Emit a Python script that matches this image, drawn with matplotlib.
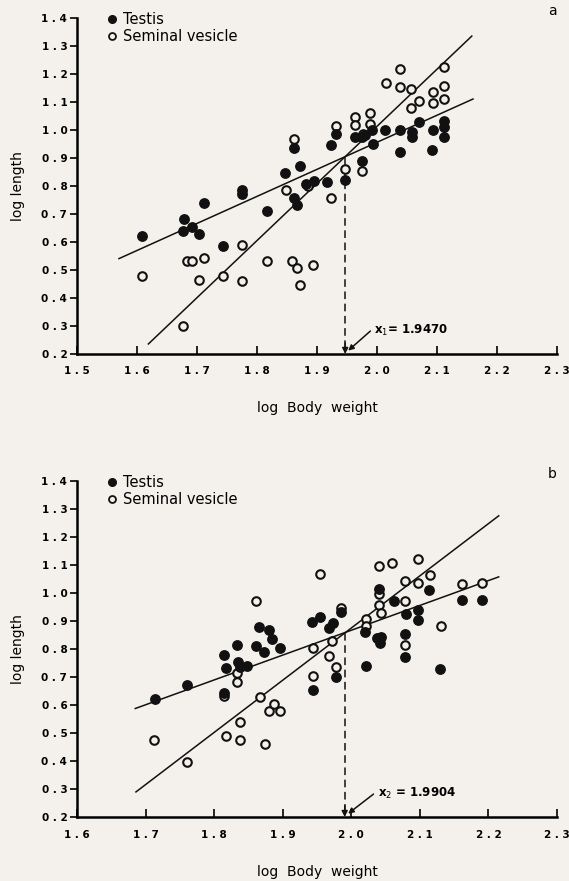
import numpy as np
import matplotlib
matplotlib.use("Agg")
from matplotlib import pyplot as plt
from matplotlib.lines import Line2D

# panel a : testis (filled) and seminal vesicle (open)
testis_a_x = [1.608, 1.679, 1.676, 1.692, 1.704, 1.712, 1.743, 1.775, 1.775, 1.817,
              1.847, 1.861, 1.862, 1.867, 1.872, 1.882, 1.895, 1.917, 1.923, 1.932,
              1.947, 1.963, 1.975, 1.975, 1.980, 1.991, 1.994, 2.014, 2.038, 2.039,
              2.058, 2.058, 2.070, 2.092, 2.093, 2.111, 2.111, 2.111]
testis_a_y = [0.621, 0.681, 0.640, 0.654, 0.629, 0.739, 0.587, 0.786, 0.772, 0.709,
              0.845, 0.937, 0.756, 0.732, 0.872, 0.806, 0.819, 0.813, 0.948, 0.986,
              0.820, 0.976, 0.890, 0.976, 0.982, 1.000, 0.950, 0.999, 0.999, 0.923,
              0.992, 0.974, 1.027, 0.929, 1.001, 1.031, 1.010, 0.974]
sv_a_x = [1.608, 1.677, 1.684, 1.692, 1.704, 1.712, 1.743, 1.775, 1.775, 1.817,
          1.849, 1.859, 1.861, 1.866, 1.872, 1.885, 1.894, 1.923, 1.932, 1.947,
          1.963, 1.963, 1.975, 1.977, 1.988, 1.988, 2.015, 2.038, 2.038, 2.057,
          2.057, 2.070, 2.094, 2.094, 2.112, 2.112, 2.112]
sv_a_y = [0.477, 0.300, 0.531, 0.531, 0.464, 0.542, 0.477, 0.590, 0.462, 0.531,
          0.785, 0.531, 0.968, 0.506, 0.445, 0.800, 0.519, 0.757, 1.013, 0.861,
          1.045, 1.018, 0.855, 0.985, 1.060, 1.021, 1.168, 1.218, 1.154, 1.145,
          1.077, 1.102, 1.135, 1.096, 1.225, 1.156, 1.112]

# panel b
testis_b_x = [1.714, 1.761, 1.814, 1.814, 1.817, 1.834, 1.835, 1.838, 1.848, 1.861,
              1.866, 1.873, 1.880, 1.885, 1.896, 1.943, 1.944, 1.954, 1.968, 1.973,
              1.977, 1.985, 2.020, 2.021, 2.037, 2.044, 2.042, 2.041, 2.062, 2.078,
              2.078, 2.080, 2.097, 2.097, 2.113, 2.130, 2.162, 2.191]
testis_b_y = [0.621, 0.670, 0.780, 0.644, 0.731, 0.814, 0.752, 0.737, 0.740, 0.812,
              0.877, 0.790, 0.869, 0.835, 0.804, 0.897, 0.653, 0.915, 0.874, 0.893,
              0.699, 0.931, 0.862, 0.740, 0.838, 0.844, 0.820, 1.014, 0.973, 0.854,
              0.772, 0.926, 0.938, 0.904, 1.011, 0.730, 0.974, 0.974]
sv_b_x = [1.712, 1.761, 1.814, 1.817, 1.833, 1.834, 1.838, 1.838, 1.861, 1.867,
          1.874, 1.880, 1.888, 1.896, 1.944, 1.944, 1.954, 1.967, 1.972, 1.977,
          1.985, 2.021, 2.021, 2.040, 2.041, 2.041, 2.043, 2.059, 2.078, 2.078,
          2.078, 2.097, 2.097, 2.115, 2.131, 2.162, 2.191]
sv_b_y = [0.475, 0.396, 0.632, 0.489, 0.682, 0.713, 0.541, 0.475, 0.970, 0.629,
          0.461, 0.580, 0.602, 0.580, 0.802, 0.704, 1.069, 0.775, 0.830, 0.737,
          0.948, 0.909, 0.884, 1.097, 0.996, 0.958, 0.929, 1.107, 1.044, 0.971,
          0.814, 1.121, 1.036, 1.065, 0.882, 1.031, 1.035]

# fitted lines: (slope, intercept, x start, x end)
fit_testis_a = (0.966, -0.976, 1.570, 2.160)
fit_sv_a = (2.04, -3.067, 1.619, 2.158)
fit_testis_b = (0.887, -0.907, 1.685, 2.215)
fit_sv_b = (1.864, -2.853, 1.686, 2.215)

x_break = [1.9470, 1.9904]
x_break_lbl = ["x$_1$= 1.9470", "x$_2$ = 1.9904"]
panel_lbl = ["a", "b"]
xlims = [(1.5, 2.3), (1.6, 2.3)]
yticks = np.round(np.arange(0.2, 1.41, 0.1), 1)

bg = "#f4f1ec"
plt.rcParams["font.family"] = ["DejaVu Sans"]

fig = plt.figure(figsize=(5.69, 8.81), dpi=100, facecolor=bg)
axa = fig.add_axes([0.1353, 0.5982, 0.8436, 0.3814])
axb = fig.add_axes([0.1353, 0.0726, 0.8436, 0.3814])


def spaced(v):
    return " ".join("%.1f" % v)


def draw(ax, tx, ty, sx, sy, ft, fs, xb, xbl, lbl, xlim):
    ax.set_facecolor(bg)
    ax.scatter(sx, sy, s=38, facecolors=bg, edgecolors="#111", linewidths=1.5,
               zorder=3, clip_on=False)
    ax.scatter(tx, ty, s=46, c="#111", zorder=4, clip_on=False)
    for m, b, x0, x1 in (ft, fs):
        xx = np.array([x0, x1])
        ax.plot(xx, m * xx + b, color="#111", lw=1.1, zorder=2)
    m, b = ft[0], ft[1]
    yint = m * xb + b
    ax.plot([xb, xb], [yint, 0.215], color="#111", lw=1.1, ls=(0, (5, 3)), zorder=2)
    ax.annotate("", xy=(xb, 0.2), xytext=(xb, 0.24),
                arrowprops=dict(arrowstyle="-|>", color="#111", lw=1,
                                mutation_scale=9, shrinkA=0, shrinkB=0))
    ax.annotate("", xy=(xb + 0.005, 0.212), xytext=(xb + 0.042, 0.282),
                arrowprops=dict(arrowstyle="-|>", color="#111", lw=1.1,
                                mutation_scale=8, shrinkA=0, shrinkB=0))
    ax.text(xb + 0.048, 0.284, xbl, fontsize=8.5, fontweight="bold",
            va="center", ha="left")

    ax.set_xlim(*xlim)
    ax.set_ylim(0.2, 1.4)
    xt = np.round(np.arange(xlim[0], 2.31, 0.1), 1)
    ax.set_xticks(xt)
    ax.set_xticklabels([spaced(v) for v in xt], fontsize=7.5, fontweight="bold")
    ax.set_yticks(yticks)
    ax.set_yticklabels([spaced(v) for v in yticks], fontsize=7.5, fontweight="bold")
    ax.tick_params(axis="x", direction="in", length=6, width=1.2, pad=9)
    ax.tick_params(axis="y", direction="out", length=5, width=1.2, pad=2)
    for s in ("top", "right"):
        ax.spines[s].set_visible(False)
    for s in ("left", "bottom"):
        ax.spines[s].set_linewidth(1.8)
    ax.set_xlabel("log  Body  weight", fontsize=10, labelpad=18)
    ax.set_ylabel("log length", fontsize=10, labelpad=12)

    handles = [Line2D([], [], ls="", marker="o", ms=5.5, mfc="#111", mec="#111"),
               Line2D([], [], ls="", marker="o", ms=5, mfc=bg, mec="#111", mew=1.3)]
    ax.legend(handles, ["Testis", "Seminal vesicle"], loc="upper left",
              bbox_to_anchor=(0.045, 1.035), frameon=False, fontsize=10.5,
              handletextpad=0.2, labelspacing=0.15, borderaxespad=0, handlelength=1.1)
    ax.text(1.0, 1.0, lbl, transform=ax.transAxes, fontsize=10, ha="right", va="bottom")


draw(axa, testis_a_x, testis_a_y, sv_a_x, sv_a_y, fit_testis_a, fit_sv_a,
     x_break[0], x_break_lbl[0], panel_lbl[0], xlims[0])
draw(axb, testis_b_x, testis_b_y, sv_b_x, sv_b_y, fit_testis_b, fit_sv_b,
     x_break[1], x_break_lbl[1], panel_lbl[1], xlims[1])

fig.savefig("out.png", dpi=100, facecolor=bg)
